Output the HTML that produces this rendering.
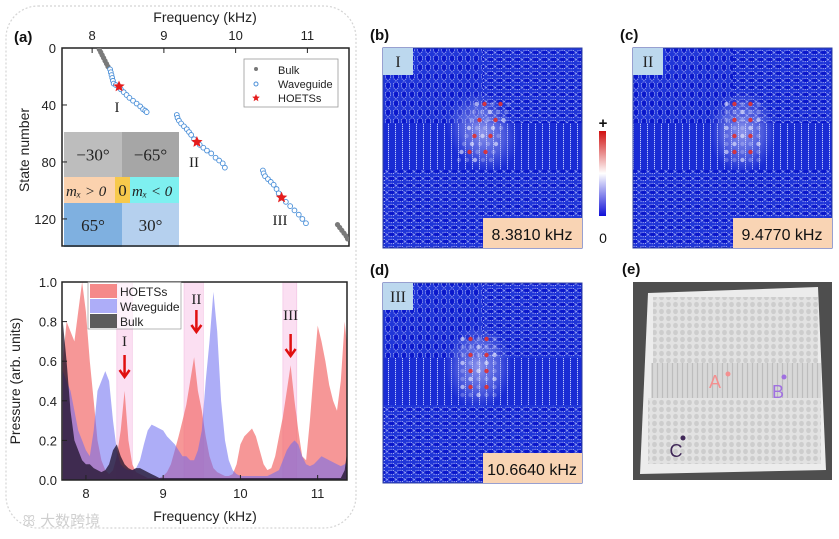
<!DOCTYPE html>
<html><head><meta charset="utf-8">
<style>
body{margin:0;background:#fff;width:839px;height:534px;overflow:hidden;font-family:"Liberation Sans","Noto Sans CJK SC",sans-serif}
svg text{font-family:"Liberation Sans","Noto Sans CJK SC",sans-serif}
.serif{font-family:"Liberation Serif",serif}
</style></head>
<body>
<svg id="fig" width="839" height="534" viewBox="0 0 839 534" xmlns="http://www.w3.org/2000/svg">
<defs>
 <pattern id="pv" width="8" height="9" patternUnits="userSpaceOnUse"><rect width="8" height="9" fill="#2036d8"/><ellipse cx="4" cy="4.5" rx="2.6" ry="3.7" fill="#0a18cc" stroke="#c8d0ff" stroke-width="0.8" stroke-dasharray="1.2,1"/></pattern>
 <pattern id="ph" width="9" height="7" patternUnits="userSpaceOnUse"><rect width="9" height="7" fill="#2036d8"/><ellipse cx="4.5" cy="3.5" rx="3.8" ry="2.2" fill="#0a18cc" stroke="#c8d0ff" stroke-width="0.8" stroke-dasharray="1.2,1"/></pattern>
 <pattern id="pl" width="7" height="8" patternUnits="userSpaceOnUse"><rect width="7" height="8" fill="#1a2cd4"/><line x1="3.5" y1="0" x2="3.5" y2="8" stroke="#d0d8ff" stroke-width="0.9" stroke-dasharray="1.2,0.8"/></pattern>
 <pattern id="pw" width="7" height="7" patternUnits="userSpaceOnUse"><rect width="7" height="7" fill="#e2e2e2"/><ellipse cx="3.5" cy="3.5" rx="2.4" ry="2.6" fill="#cdcdcd"/></pattern>
 <pattern id="pwl" width="5" height="8" patternUnits="userSpaceOnUse"><rect width="5" height="8" fill="#d8d8d8"/><line x1="2.5" y1="0" x2="2.5" y2="8" stroke="#bdbdbd" stroke-width="1.2"/></pattern>
 <radialGradient id="hot"><stop offset="0" stop-color="#e8e8ff" stop-opacity="0.55"/><stop offset="0.6" stop-color="#a8b0f0" stop-opacity="0.35"/><stop offset="1" stop-color="#8090e8" stop-opacity="0"/></radialGradient>
 <linearGradient id="cbar" x1="0" y1="0" x2="0" y2="1"><stop offset="0" stop-color="#d01010"/><stop offset="0.5" stop-color="#ffffff"/><stop offset="1" stop-color="#1010d8"/></linearGradient>
 <clipPath id="clipA"><rect x="62" y="48" width="287" height="198"/></clipPath>
 <clipPath id="clipB"><rect x="62" y="282" width="285" height="198"/></clipPath>
</defs>

<rect x="6" y="6" width="350" height="522" rx="32" fill="none" stroke="#d4d4d4" stroke-width="1.2" stroke-dasharray="2,2"/>

<g id="panelA"></g>
<g id="panelSpec"></g>
<g id="maps"></g>

<text x="22" y="526" font-size="15" fill="#cfcfcf">ꕥ 大数跨境</text>
</svg>

<script>
// ---------- Top chart data (a) ----------
const bulkFreq = [8.10,8.12,8.14,8.16,8.18,8.20,8.22,8.25, 11.42,11.45,11.48,11.51,11.54,11.56];
const bulkState = [1,3,5,7,9,11,13,15, 124,126,128,130,132,134];
const wgFreq = [8.25,8.26,8.27,8.28,8.29,8.30,8.33,8.40,8.44,8.48,8.52,8.57,8.62,8.67,8.71,8.74,8.76,
 9.18,9.19,9.21,9.24,9.28,9.32,9.35,9.38,9.42,9.50,9.55,9.60,9.66,9.72,9.77,9.82,9.85,
 10.38,10.39,10.41,10.45,10.49,10.53,10.57,10.60,10.64,10.70,10.76,10.82,10.88,10.93,10.98];
const wgState = [15,17,19,21,23,25,26,29,31,33,35,37,39,41,43,44,45,
 47,49,51,53,55,57,59,61,64,68,70,72,74,77,79,81,84,
 86,88,90,92,94,96,99,102,105,108,111,114,117,120,123];
const hoFreq = [8.375, 9.46, 10.64];
const hoState = [27, 66, 105];
const topXTicks = [8,9,10,11];
const topYTicks = [0,40,80,120];

// ---------- Spectrum data ----------
const specFreq = [7.7,7.75,7.8,7.85,7.9,7.95,8.0,8.05,8.1,8.15,8.2,8.25,8.3,8.35,8.4,8.45,8.5,8.55,8.6,8.65,8.7,8.75,8.8,8.85,8.9,8.95,9.0,9.05,9.1,9.15,9.2,9.25,9.3,9.35,9.4,9.45,9.5,9.55,9.6,9.65,9.7,9.75,9.8,9.85,9.9,9.95,10.0,10.05,10.1,10.15,10.2,10.25,10.3,10.35,10.4,10.45,10.5,10.55,10.6,10.65,10.7,10.75,10.8,10.85,10.9,10.95,11.0,11.05,11.1,11.15,11.2,11.25,11.3,11.35,11.4];
const hoetss = [0.6,0.8,0.75,0.7,0.85,1.0,0.85,0.6,0.4,0.2,0.1,0.05,0.03,0.05,0.12,0.25,0.45,0.2,0.08,0.04,0.03,0.02,0.01,0.01,0.01,0.01,0.02,0.04,0.08,0.15,0.22,0.3,0.38,0.5,0.62,0.45,0.35,0.22,0.12,0.06,0.04,0.03,0.02,0.02,0.03,0.08,0.18,0.22,0.24,0.26,0.22,0.15,0.08,0.05,0.06,0.12,0.22,0.32,0.45,0.58,0.4,0.25,0.12,0.1,0.3,0.55,0.78,0.7,0.6,0.48,0.4,0.35,0.5,0.8,0.6];
const waveguide = [0.55,0.5,0.45,0.35,0.25,0.2,0.15,0.12,0.25,0.45,0.5,0.55,0.5,0.3,0.15,0.08,0.06,0.05,0.05,0.06,0.1,0.18,0.25,0.28,0.27,0.26,0.25,0.22,0.2,0.18,0.15,0.12,0.12,0.1,0.1,0.15,0.25,0.5,0.7,0.95,0.75,0.4,0.2,0.1,0.05,0.03,0.02,0.02,0.02,0.02,0.02,0.02,0.02,0.02,0.03,0.04,0.05,0.1,0.15,0.18,0.2,0.18,0.12,0.08,0.07,0.08,0.1,0.12,0.11,0.1,0.09,0.08,0.07,0.08,0.1];
const bulk = [0.8,0.6,0.35,0.2,0.15,0.1,0.08,0.08,0.06,0.05,0.04,0.05,0.08,0.15,0.18,0.12,0.08,0.06,0.05,0.06,0.06,0.05,0.04,0.03,0.02,0.01,0.01,0.01,0.01,0.01,0.01,0.01,0.01,0.01,0.01,0.01,0.01,0.01,0.01,0.01,0.01,0.01,0.01,0.01,0.01,0.01,0.01,0.01,0.01,0.01,0.01,0.01,0.01,0.01,0.01,0.01,0.01,0.01,0.01,0.01,0.01,0.01,0.01,0.01,0.01,0.01,0.01,0.01,0.01,0.01,0.01,0.01,0.01,0.05,0.2];
const bandLabels = ["I","II","III"];
const bandStart = [8.4,9.27,10.55];
const bandEnd = [8.6,9.52,10.73];
const bandPeak = [8.5,9.43,10.65];
const specXTicks = [8,9,10,11];
const specYTicks = [0,0.2,0.4,0.6,0.8,1.0];

const NS="http://www.w3.org/2000/svg";
function mk(tag,attrs,parent,txt){const e=document.createElementNS(NS,tag);for(const k in attrs)e.setAttribute(k,attrs[k]);if(txt!==undefined)e.textContent=txt;parent.appendChild(e);return e;}

// ---------- Panel A ----------
const A=document.getElementById('panelA');
const ax=f=>62+(f-7.58)/(11.58-7.58)*287;
const ay=s=>48+s/139*198;
const inset=[[64,132,58,45,"#bdbdbd","−30°"],[122,132,57,45,"#a6a6a6","−65°"],[64,177,51,26,"#fbd2ae",""],[115,177,15,26,"#f7c94c","0"],[130,177,49,26,"#7ef0f0",""],[64,203,58,44,"#7fb0e0","65°"],[122,203,57,44,"#b5d0ee","30°"]];
const inames=["inset-minus30","inset-minus65","inset-mx-pos","inset-zero","inset-mx-neg","inset-65","inset-30"];
inset.forEach((c,i)=>{const g=mk('g',{},A);
 mk('rect',{x:c[0],y:c[1],width:c[2],height:c[3],fill:c[4]},g);
 if(c[5])mk('text',{x:c[0]+c[2]/2,y:c[1]+c[3]/2+6,'font-size':17,'text-anchor':'middle',fill:'#222',class:'serif'},g,c[5]);});
mk('text',{x:66,y:196,'font-size':15,fill:'#222',class:'serif','font-style':'italic'},A,'mₓ > 0');
mk('text',{x:132,y:196,'font-size':15,fill:'#222',class:'serif','font-style':'italic'},A,'mₓ < 0');
const fA=mk('rect',{x:62,y:48,width:287,height:198,fill:'none',stroke:'#222','stroke-width':1.5},A);

topXTicks.forEach(t=>{mk('line',{x1:ax(t),y1:48,x2:ax(t),y2:53,stroke:'#222'},A);
 const e=mk('text',{x:ax(t),y:40,'font-size':13,'text-anchor':'middle',fill:'#222'},A,String(t));
 });
topYTicks.forEach(t=>{mk('line',{x1:62,y1:ay(t),x2:67,y2:ay(t),stroke:'#222'},A);
 const e=mk('text',{x:56,y:ay(t)+5,'font-size':13,'text-anchor':'end',fill:'#222'},A,String(t));
 });
let e=mk('text',{x:205,y:22,'font-size':14,'text-anchor':'middle',fill:'#222'},A,'Frequency (kHz)');

e=mk('text',{x:0,y:0,'font-size':14,'text-anchor':'middle',fill:'#222',transform:'translate(29,150) rotate(-90)'},A,'State number');

e=mk('text',{x:14,y:42,'font-size':15,'font-weight':'bold',fill:'#111'},A,'(a)');

const gA=mk('g',{'clip-path':'url(#clipA)'},A);
bulkFreq.forEach((f,i)=>{const c=mk('circle',{cx:ax(f),cy:ay(bulkState[i]),r:2.6,fill:'#7a7a7a'},gA);
 });
wgFreq.forEach((f,i)=>{const c=mk('circle',{cx:ax(f),cy:ay(wgState[i]),r:2.4,fill:'#fff',stroke:'#4a8fd8','stroke-width':0.9},gA);
 });
function star(cx,cy,r){let p=[];for(let i=0;i<10;i++){const a=-Math.PI/2+i*Math.PI/5,rr=i%2?r*0.45:r;p.push((cx+rr*Math.cos(a)).toFixed(1)+','+(cy+rr*Math.sin(a)).toFixed(1));}return p.join(' ');}
hoFreq.forEach((f,i)=>{const s=mk('polygon',{points:star(ax(f),ay(hoState[i]),6),fill:'#e51d1d'},gA);
 });
[["I",117,112],["II",194,167],["III",280,225]].forEach(l=>{const t=mk('text',{x:l[1],y:l[2],'font-size':15,'text-anchor':'middle',fill:'#222',class:'serif'},A,l[0]);
 });
const lg=mk('g',{},A);
mk('rect',{x:244,y:59,width:94,height:48,fill:'#fff',stroke:'#999','stroke-width':0.8},lg);
mk('circle',{cx:256,cy:69,r:2,fill:'#777'},lg);mk('text',{x:278,y:74,'font-size':11,fill:'#222'},lg,'Bulk');
mk('circle',{cx:256,cy:84,r:2,fill:'#fff',stroke:'#4a8fd8'},lg);mk('text',{x:278,y:88,'font-size':11,fill:'#222'},lg,'Waveguide');
mk('polygon',{points:star(256,98,4),fill:'#e51d1d'},lg);mk('text',{x:278,y:102,'font-size':11,fill:'#222'},lg,'HOETSs');

// ---------- Spectrum ----------
const S=document.getElementById('panelSpec');
const sx=f=>62+(f-7.69)/(11.38-7.69)*285;
const sy=v=>480-v*198;
const gS=mk('g',{'clip-path':'url(#clipB)'},S);
bandLabels.forEach((b,i)=>{const r=mk('rect',{x:sx(bandStart[i]),y:282,width:sx(bandEnd[i])-sx(bandStart[i]),height:198,fill:'#fbd8f0',opacity:0.8,stroke:'#f0b0dc','stroke-width':0.6},gS);
 });
function area(vals,fill,op,name){let d='M'+sx(specFreq[0])+','+sy(0);vals.forEach((v,i)=>{d+=' L'+sx(specFreq[i]).toFixed(1)+','+sy(v).toFixed(1);});d+=' L'+sx(specFreq[specFreq.length-1])+','+sy(0)+'Z';
 const p=mk('path',{d:d,fill:fill,'fill-opacity':op},gS);}
area(hoetss,'#f26b6b',0.7,'hoetss-area');
area(waveguide,'#6a6af0',0.55,'waveguide-area');
area(bulk,'#1c1028',0.75,'bulk-area');
const fS=mk('rect',{x:62,y:282,width:285,height:198,fill:'none',stroke:'#222','stroke-width':1.5},S);

specXTicks.forEach(t=>{mk('line',{x1:sx(t),y1:480,x2:sx(t),y2:475,stroke:'#222'},S);
 const e=mk('text',{x:sx(t),y:498,'font-size':13,'text-anchor':'middle',fill:'#222'},S,String(t));
 });
specYTicks.forEach(t=>{mk('line',{x1:62,y1:sy(t),x2:67,y2:sy(t),stroke:'#222'},S);
 const e=mk('text',{x:57,y:sy(t)+5,'font-size':13,'text-anchor':'end',fill:'#222'},S,t.toFixed(1));
 });
e=mk('text',{x:205,y:521,'font-size':14,'text-anchor':'middle',fill:'#222'},S,'Frequency (kHz)');

e=mk('text',{x:0,y:0,'font-size':14,'text-anchor':'middle',fill:'#222',transform:'translate(20,381) rotate(-90)'},S,'Pressure (arb. units)');

bandLabels.forEach((b,i)=>{const x=sx(bandPeak[i]);
 const t=mk('text',{x:x,y:[346,304,320][i],'font-size':15,'text-anchor':'middle',fill:'#222',class:'serif'},S,b);
 
 const g=mk('g',{},S);
 const ys=[355,310,334][i];
 mk('line',{x1:x,y1:ys,x2:x,y2:ys+20,stroke:'#e01010','stroke-width':2.5},g);
 mk('polyline',{points:(x-5)+','+(ys+15)+' '+x+','+(ys+22)+' '+(x+5)+','+(ys+15),fill:'none',stroke:'#e01010','stroke-width':2.5},g);});
const l2=mk('g',{},S);
mk('rect',{x:88,y:282,width:93,height:47,fill:'#fff','fill-opacity':0.6,stroke:'#888','stroke-width':0.6},l2);
[['#f26b6b',0.8,'HOETSs'],['#8a8af5',0.7,'Waveguide'],['#333',0.8,'Bulk']].forEach((r,i)=>{
 mk('rect',{x:90,y:284+i*15,width:27,height:14,fill:r[0],'fill-opacity':r[1]},l2);
 mk('text',{x:120,y:296+i*15,'font-size':12,fill:'#222'},l2,r[2]);});

// ---------- Field maps ----------
const M=document.getElementById('maps');
const mapsX=[383,633,383],mapsY=[48,48,283];
const mapLbl=["I","II","III"],mapFreq=["8.3810 kHz","9.4770 kHz","10.6640 kHz"],mapTag=["(b)","(c)","(d)"];
const hotX=[0.5,0.55,0.48],hotY=[0.42,0.42,0.42];
mapLbl.forEach((l,i)=>{const x=mapsX[i],y=mapsY[i];const g=mk('g',{},M);
 
 mk('rect',{x:x,y:y,width:100,height:75,fill:'url(#pv)'},g);
 mk('rect',{x:x+100,y:y,width:99,height:75,fill:'url(#ph)'},g);
 mk('rect',{x:x,y:y+75,width:199,height:47,fill:'url(#pl)'},g);
 mk('rect',{x:x,y:y+122,width:199,height:78,fill:'url(#ph)'},g);
 mk('rect',{x:x,y:y,width:199,height:200,fill:'none',stroke:'#3040a0','stroke-width':1},g);
 const cx=x+hotX[i]*199,cy=y+hotY[i]*200;
 mk('ellipse',{cx:cx,cy:cy,rx:34,ry:42,fill:'url(#hot)',transform:i==0?'rotate(-30 '+cx+' '+cy+')':''},g);
 for(let r=0;r<8;r++)for(let c=0;c<5;c++){const dx=(c-2)*8+(i==0?(r-4)*-2.5:0),dy=(r-3.5)*8;
  const red=(c==1||c==3)&&r%2==0;
  mk('circle',{cx:cx+dx,cy:cy+dy,r:2.2,fill:red?'#e03030':'#f0f0ff','fill-opacity':red?0.9:(0.25+0.35*((r+c)%3==0)) },g);}
 mk('rect',{x:x,y:y,width:30,height:27,fill:'#bcd8ee'},g);
 mk('text',{x:x+15,y:y+19,'font-size':16,'text-anchor':'middle',fill:'#222',class:'serif'},g,l);
 mk('rect',{x:x+100,y:y+170,width:99,height:30,fill:'#f9d4b4'},g);
 const ft=mk('text',{x:x+149,y:y+192,'font-size':16,'text-anchor':'middle',fill:'#111'},g,mapFreq[i]);
 
 const tg=mk('text',{x:x-13,y:y-8,'font-size':15,'font-weight':'bold',fill:'#111'},M,mapTag[i]);
 });
const cb=mk('g',{},M);
mk('rect',{x:599,y:131,width:7,height:85,fill:'url(#cbar)'},cb);
mk('text',{x:603,y:128,'font-size':15,'text-anchor':'middle',fill:'#111','font-weight':'bold'},cb,'+');
mk('text',{x:603,y:243,'font-size':14,'text-anchor':'middle',fill:'#111'},cb,'0');
// photo (e)
const P=mk('g',{},M);
mk('rect',{x:633,y:282,width:199,height:198,fill:'#4e4e4e'},P);
mk('polygon',{points:'648,293 818,287 826,470 640,474',fill:'#ececec'},P);
mk('rect',{x:653,y:297,width:82,height:66,fill:'url(#pw)'},P);
mk('rect',{x:735,y:297,width:83,height:66,fill:'url(#pw)'},P);
mk('rect',{x:651,y:363,width:170,height:35,fill:'url(#pwl)'},P);
mk('rect',{x:648,y:398,width:85,height:66,fill:'url(#pw)'},P);
mk('rect',{x:733,y:398,width:88,height:66,fill:'url(#pw)'},P);
mk('text',{x:715,y:388,'font-size':18,'text-anchor':'middle',fill:'#f49090'},P,'A');
mk('circle',{cx:728,cy:374,r:2.5,fill:'#f49090'},P);
mk('text',{x:778,y:398,'font-size':18,'text-anchor':'middle',fill:'#a070e0'},P,'B');
mk('circle',{cx:784,cy:377,r:2.5,fill:'#a070e0'},P);
mk('text',{x:676,y:457,'font-size':18,'text-anchor':'middle',fill:'#402858'},P,'C');
mk('circle',{cx:683,cy:438,r:2.5,fill:'#402858'},P);
const te=mk('text',{x:622,y:274,'font-size':15,'font-weight':'bold',fill:'#111'},M,'(e)');

</script>
</body></html>
